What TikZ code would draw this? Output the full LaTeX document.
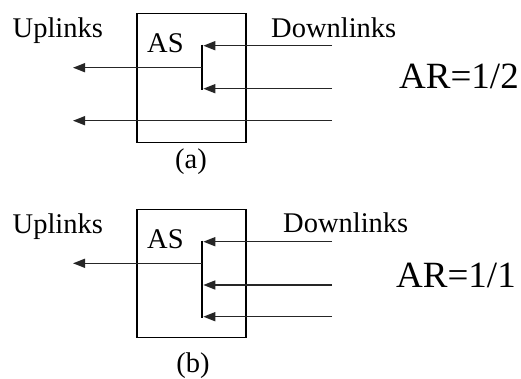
\documentclass[tikz,border=0pt]{standalone}
\usepackage{fontspec}
\setmainfont{Liberation Serif}
\usepackage{tikz}
\usetikzlibrary{arrows.meta,positioning,calc}

\begin{document}
\begin{tikzpicture}[x=1pt,y=-1pt,>={Triangle[length=12pt,width=9pt]},
  link/.style={->,line width=1.5pt,draw=black!85},
  bus/.style={line width=2.8pt},
  asbox/.style={draw,line width=1.4pt,minimum width=109pt,minimum height=129pt,inner sep=0pt},
  lbl/.style={anchor=base west,inner sep=0pt,font=\fontsize{28.5}{31}\selectfont},
  ratio/.style={anchor=base west,inner sep=0pt,font=\fontsize{37}{40}\selectfont},
  sublbl/.style={anchor=base,inner sep=0pt,font=\fontsize{28.5}{31}\selectfont}]
\useasboundingbox (0,0) rectangle (521,379);

% (a) two downlinks merged into one uplink
\node[asbox] (boxA) at (191.5,78) {};
\node[lbl] (upA) at (12.5,37.5) {Uplinks};
\node[lbl] (asA) at (147,52.5) {AS};
\node[lbl] (downA) at (271,38) {Downlinks};
\node[ratio] (arA) at (399,88.5) {AR=1/2};
\node[sublbl] (capA) at (191,168.5) {(a)};
\coordinate (a-in1) at (332,45.7);
\coordinate (a-in2) at (332,88.7);
\coordinate (a-in3) at (332,120.7);
\coordinate (a-b1) at (202,45.7);
\coordinate (a-b2) at (202,88.7);
\coordinate (a-bm) at (202,67.7);
\coordinate (a-out1) at (73,67.7);
\coordinate (a-out2) at (73,120.7);
\draw[bus] ($(a-b1)+(0,-1)$) -- ($(a-b2)+(0,1)$);
\draw[link] (a-in1) -- ($(a-b1)+(1.3,0)$);
\draw[link] (a-in2) -- ($(a-b2)+(1.3,0)$);
\draw[link] (a-bm) -- (a-out1);
\draw[link] (a-in3) -- (a-out2);

% (b) three downlinks merged into one uplink
\node[asbox,minimum height=128pt] (boxB) at (191.5,273.5) {};
\node[lbl] (upB) at (12.5,233.5) {Uplinks};
\node[lbl] (asB) at (147,248) {AS};
\node[lbl] (downB) at (283,232.5) {Downlinks};
\node[ratio] (arB) at (396,287.5) {AR=1/1};
\node[sublbl] (capB) at (193,372.5) {(b)};
\coordinate (b-in1) at (332,241.7);
\coordinate (b-in2) at (332,285);
\coordinate (b-in3) at (332,316.7);
\coordinate (b-b1) at (202,241.7);
\coordinate (b-b2) at (202,285);
\coordinate (b-b3) at (202,316.7);
\coordinate (b-bm) at (202,263.3);
\coordinate (b-out1) at (73,263.3);
\draw[bus] ($(b-b1)+(0,-1)$) -- ($(b-b3)+(0,1)$);
\draw[link] (b-in1) -- ($(b-b1)+(1.3,0)$);
\draw[link] (b-in2) -- ($(b-b2)+(1.3,0)$);
\draw[link] (b-in3) -- ($(b-b3)+(1.3,0)$);
\draw[link] (b-bm) -- (b-out1);
\end{tikzpicture}
\end{document}
